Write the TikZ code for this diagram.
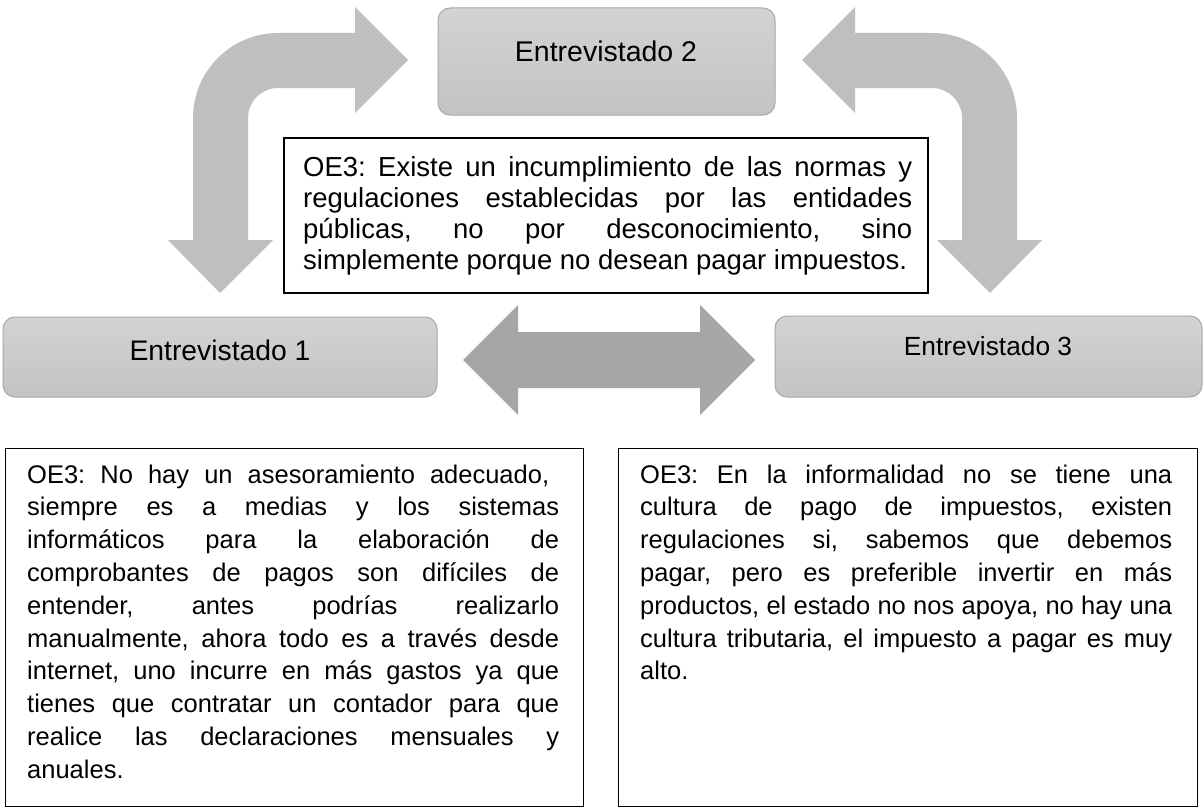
\documentclass[tikz,border=0pt]{standalone}
\usepackage{fontspec}
\setmainfont{Liberation Sans}
\definecolor{arrowlight}{HTML}{BFBFBF}
\definecolor{arrowdark}{HTML}{A6A6A6}
\definecolor{boxtop}{HTML}{D3D3D3}
\definecolor{boxbot}{HTML}{C3C3C3}
\definecolor{boxline}{HTML}{A8A8A8}
\tolerance=10000
\hbadness=10000
\hyphenpenalty=10000
\frenchspacing
\begin{document}
\begin{tikzpicture}[x=1pt,y=-1pt,
  ebox/.style={draw=boxline, line width=1pt, rounded corners=12pt, top color=boxtop, bottom color=boxbot, inner sep=0pt},
  elabel/.style={inner sep=0pt, anchor=base, text=black},
  tbox/.style={draw=black, line width=1.2pt, fill=white, inner sep=0pt},
  ttext/.style={inner sep=0pt, anchor=base west, align=justify},
  curvearrow/.style={fill=arrowlight, draw=none},
  dblarrow/.style={fill=arrowdark, draw=none}]
\fill[white] (0,0) rectangle (1204,808);
\useasboundingbox (0,0) rectangle (1204,808);

% curved arrows
\fill[curvearrow] (220,293) -- (273,240) -- (248,240) -- (248,118)
  .. controls (248,101.4) and (261.4,88) .. (278,88) -- (355,88) -- (355,113)
  -- (408,60) -- (355,7) -- (355,33) -- (278,33)
  .. controls (231.1,33) and (193,71.1) .. (193,118) -- (193,240) -- (168,240) -- cycle;
\fill[curvearrow] (990,293) -- (937,240) -- (962,240) -- (962,118)
  .. controls (962,101.4) and (948.6,88) .. (932,88) -- (855,88) -- (855,113)
  -- (802,60) -- (855,7) -- (855,33) -- (932,33)
  .. controls (978.9,33) and (1017,71.1) .. (1017,118) -- (1017,240) -- (1042,240) -- cycle;
% double arrow
\fill[dblarrow] (463,360) -- (518,305) -- (518,332) -- (700,332) -- (700,305)
  -- (755,360) -- (700,415) -- (700,388) -- (518,388) -- (518,415) -- cycle;

% interviewee boxes
\node[ebox, minimum width=434, minimum height=80] (e1) at (220,357) {};
\node[ebox, minimum width=337, minimum height=107] (e2) at (606.5,61.5) {};
\node[ebox, minimum width=427, minimum height=81] (e3) at (988.5,356.5) {};
\node[elabel, font=\fontsize{28.3}{34}\selectfont] (l1) at (220,360) {Entrevistado 1};
\node[elabel, font=\fontsize{28.5}{34}\selectfont] (l2) at (606,62) {Entrevistado 2};
\node[elabel, font=\fontsize{26.3}{32}\selectfont] (l3) at (988,355) {Entrevistado 3};

% central text box
\node[tbox, minimum width=644, minimum height=155] (cbox) at (606,215.5) {};
\node[ttext, text width=609, font=\fontsize{27.5}{31}\selectfont] (ctext) at (303,176)
  {OE3: Existe un incumplimiento de las normas y\linebreak
   regulaciones establecidas por las entidades\linebreak
   públicas, no por desconocimiento, sino\linebreak
   simplemente porque no desean pagar impuestos.};

% bottom boxes
\node[tbox, anchor=north west, minimum width=578, minimum height=358] (b1) at (5,448) {};
\node[tbox, anchor=north west, minimum width=579, minimum height=358] (b2) at (618,448) {};
\node[ttext, text width=532, font=\fontsize{25.5}{32.8}\selectfont] (t1) at (27,483)
  {\makebox[522pt][s]{OE3: No hay un asesoramiento adecuado,}\\
   siempre es a medias y los sistemas\linebreak
   informáticos para la elaboración de\linebreak
   comprobantes de pagos son difíciles de\linebreak
   entender, antes podrías realizarlo\linebreak
   manualmente, ahora todo es a través desde\linebreak
   internet, uno incurre en más gastos ya que\linebreak
   tienes que contratar un contador para que\linebreak
   realice las declaraciones mensuales y\linebreak
   anuales.};
\node[ttext, text width=532, font=\fontsize{25.5}{32.8}\selectfont] (t2) at (640,483)
  {OE3: En la informalidad no se tiene una\linebreak
   cultura de pago de impuestos, existen\linebreak
   regulaciones si, sabemos que debemos\linebreak
   pagar, pero es preferible invertir en más\linebreak
   productos, el estado no nos apoya, no hay una\linebreak
   cultura tributaria, el impuesto a pagar es muy\linebreak
   alto.};
\end{tikzpicture}
\end{document}
